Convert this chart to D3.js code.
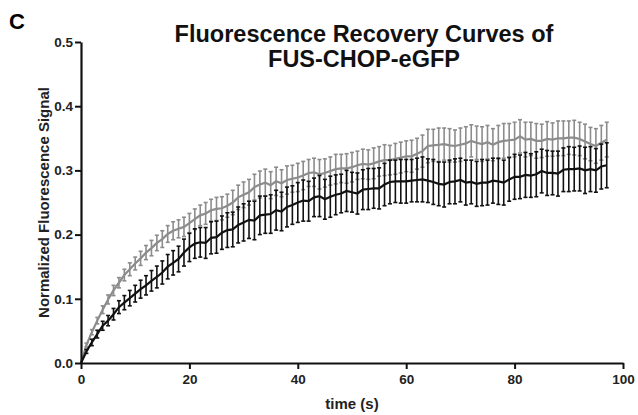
<!DOCTYPE html>
<html>
<head>
<meta charset="utf-8">
<script src="https://cdn.jsdelivr.net/npm/d3@7"></script>
<style>
  body { margin: 0; background: #fff; }
  svg text { font-family: "Liberation Sans", Arial, sans-serif; font-weight: bold; }
</style>
</head>
<body>
<div id="chart"></div>
<script>
// time points (s)
var times = [];
for (var t = 0; t <= 97; t++) times.push(t);

// black series: mean and error
var blackMean = [
  0.000, 0.018, 0.032, 0.045, 0.058, 0.066, 0.076, 0.087, 0.094, 0.101,
  0.108, 0.115, 0.121, 0.128, 0.134, 0.141, 0.150, 0.156, 0.162, 0.172,
  0.180, 0.186, 0.188, 0.187, 0.195, 0.196, 0.203, 0.207, 0.208, 0.215,
  0.219, 0.223, 0.222, 0.230, 0.231, 0.232, 0.238, 0.236, 0.243, 0.246,
  0.250, 0.253, 0.252, 0.258, 0.260, 0.255, 0.259, 0.262, 0.264, 0.268,
  0.266, 0.264, 0.270, 0.271, 0.272, 0.272, 0.278, 0.282, 0.283, 0.283,
  0.283, 0.284, 0.285, 0.286, 0.284, 0.282, 0.279, 0.278, 0.282, 0.283,
  0.285, 0.281, 0.282, 0.279, 0.281, 0.281, 0.284, 0.283, 0.281, 0.286,
  0.290, 0.290, 0.293, 0.292, 0.294, 0.299, 0.296, 0.296, 0.295, 0.301,
  0.302, 0.302, 0.303, 0.300, 0.302, 0.300, 0.306, 0.308
];
var blackErr = [
  0.000, 0.003, 0.005, 0.006, 0.007, 0.008, 0.009, 0.010, 0.011, 0.012,
  0.013, 0.014, 0.015, 0.016, 0.017, 0.018, 0.019, 0.019, 0.020, 0.021,
  0.022, 0.023, 0.023, 0.024, 0.025, 0.025, 0.026, 0.027, 0.027, 0.028,
  0.029, 0.029, 0.030, 0.030, 0.029, 0.030, 0.031, 0.030, 0.031, 0.030,
  0.031, 0.032, 0.031, 0.030, 0.032, 0.031, 0.032, 0.031, 0.030, 0.032,
  0.031, 0.032, 0.031, 0.032, 0.031, 0.032, 0.033, 0.034, 0.033, 0.034,
  0.034, 0.033, 0.034, 0.035, 0.034, 0.035, 0.034, 0.035, 0.034, 0.035,
  0.034, 0.035, 0.034, 0.035, 0.036, 0.035, 0.035, 0.036, 0.035, 0.034,
  0.035, 0.034, 0.035, 0.034, 0.035, 0.034, 0.035, 0.034, 0.035, 0.034,
  0.035, 0.034, 0.035, 0.036, 0.035, 0.034, 0.035, 0.035
];

// grey series: mean and error
var greyMean = [
  0.000, 0.028, 0.048, 0.066, 0.083, 0.099, 0.113, 0.125, 0.137, 0.146,
  0.155, 0.163, 0.172, 0.179, 0.187, 0.193, 0.201, 0.206, 0.209, 0.212,
  0.218, 0.224, 0.230, 0.233, 0.238, 0.240, 0.241, 0.245, 0.250, 0.258,
  0.262, 0.266, 0.274, 0.278, 0.281, 0.277, 0.283, 0.280, 0.285, 0.287,
  0.289, 0.292, 0.296, 0.297, 0.294, 0.296, 0.299, 0.302, 0.303, 0.303,
  0.305, 0.308, 0.310, 0.309, 0.311, 0.314, 0.316, 0.316, 0.318, 0.320,
  0.322, 0.322, 0.326, 0.330, 0.338, 0.339, 0.340, 0.341, 0.339, 0.338,
  0.340, 0.342, 0.346, 0.343, 0.341, 0.344, 0.340, 0.344, 0.346, 0.347,
  0.348, 0.353, 0.348, 0.349, 0.346, 0.346, 0.349, 0.348, 0.350, 0.350,
  0.351, 0.351, 0.349, 0.345, 0.341, 0.338, 0.343, 0.348
];
var greyErr = [
  0.000, 0.003, 0.004, 0.005, 0.006, 0.007, 0.008, 0.008, 0.009, 0.010,
  0.010, 0.011, 0.011, 0.012, 0.012, 0.013, 0.013, 0.014, 0.014, 0.015,
  0.015, 0.016, 0.016, 0.017, 0.017, 0.018, 0.018, 0.018, 0.019, 0.019,
  0.020, 0.020, 0.020, 0.021, 0.021, 0.021, 0.022, 0.021, 0.022, 0.021,
  0.022, 0.022, 0.021, 0.022, 0.023, 0.022, 0.022, 0.023, 0.022, 0.023,
  0.023, 0.022, 0.023, 0.023, 0.024, 0.023, 0.024, 0.023, 0.024, 0.024,
  0.024, 0.025, 0.024, 0.025, 0.026, 0.025, 0.026, 0.025, 0.026, 0.025,
  0.026, 0.026, 0.025, 0.026, 0.027, 0.026, 0.025, 0.026, 0.027, 0.026,
  0.027, 0.026, 0.027, 0.026, 0.027, 0.026, 0.027, 0.026, 0.027, 0.027,
  0.026, 0.027, 0.026, 0.027, 0.026, 0.027, 0.027, 0.027
];

var xTicks = [0, 20, 40, 60, 80, 100];
var yTicks = [0.0, 0.1, 0.2, 0.3, 0.4, 0.5];

var width = 638, height = 415;
var margin = {top: 42, right: 15, bottom: 52, left: 81};

var svg = d3.select("#chart").append("svg")
  .attr("width", width)
  .attr("height", height);

var x = d3.scaleLinear().domain([0, 100]).range([margin.left, width - margin.right]);
var y = d3.scaleLinear().domain([0, 0.5]).range([height - margin.bottom, margin.top]);

// panel letter
svg.append("text")
  .attr("x", 9).attr("y", 29)
  .attr("font-size", 22)
  .text("C");

// title
svg.append("text")
  .attr("x", 364).attr("y", 42)
  .attr("text-anchor", "middle")
  .attr("font-size", 23.5)
  .attr("fill", "#111")
  .text("Fluorescence Recovery Curves of");
svg.append("text")
  .attr("x", 364).attr("y", 67)
  .attr("text-anchor", "middle")
  .attr("font-size", 23.5)
  .attr("fill", "#111")
  .text("FUS-CHOP-eGFP");

function drawSeries(mean, err, color) {
  var g = svg.append("g");
  var capW = 2;
  times.forEach(function (t, i) {
    if (err[i] <= 0) return;
    var cx = x(t);
    var y1 = y(mean[i] + err[i]);
    var y0 = y(mean[i] - err[i]);
    g.append("line")
      .attr("x1", cx).attr("x2", cx).attr("y1", y1).attr("y2", y0)
      .attr("stroke", color).attr("stroke-width", 1.6);
    g.append("line")
      .attr("x1", cx - capW).attr("x2", cx + capW).attr("y1", y1).attr("y2", y1)
      .attr("stroke", color).attr("stroke-width", 1.6);
    g.append("line")
      .attr("x1", cx - capW).attr("x2", cx + capW).attr("y1", y0).attr("y2", y0)
      .attr("stroke", color).attr("stroke-width", 1.6);
  });
  var line = d3.line()
    .x(function (d, i) { return x(times[i]); })
    .y(function (d) { return y(d); });
  g.append("path")
    .datum(mean)
    .attr("d", line)
    .attr("fill", "none")
    .attr("stroke", color)
    .attr("stroke-width", 2.2);
}

drawSeries(greyMean, greyErr, "#8c8c8c");
drawSeries(blackMean, blackErr, "#111111");

// axes
var xAxis = svg.append("g")
  .attr("transform", "translate(0," + y(0) + ")")
  .call(d3.axisBottom(x).tickValues(xTicks).tickSize(6).tickSizeOuter(0).tickFormat(d3.format("d")));
var yAxis = svg.append("g")
  .attr("transform", "translate(" + x(0) + ",0)")
  .call(d3.axisLeft(y).tickValues(yTicks).tickSize(6).tickSizeOuter(0).tickFormat(d3.format(".1f")));

[xAxis, yAxis].forEach(function (a) {
  a.select(".domain").attr("stroke", "#111").attr("stroke-width", 2.2);
  a.selectAll(".tick line").attr("stroke", "#111").attr("stroke-width", 2);
  a.selectAll(".tick text")
    .attr("fill", "#222")
    .attr("font-size", 13.5)
    .style("font-family", "'Liberation Sans', Arial, sans-serif")
    .style("font-weight", "bold");
});
xAxis.selectAll(".tick text").attr("dy", "0.9em");
yAxis.selectAll(".tick text").attr("x", -8);

// axis titles
svg.append("text")
  .attr("x", (x(0) + x(100)) / 2).attr("y", 409)
  .attr("text-anchor", "middle")
  .attr("font-size", 15)
  .attr("fill", "#222")
  .text("time (s)");
svg.append("text")
  .attr("transform", "translate(49," + ((y(0) + y(0.5)) / 2) + ") rotate(-90)")
  .attr("text-anchor", "middle")
  .attr("font-size", 15)
  .attr("fill", "#222")
  .text("Normalized Fluorescence Signal");
</script>
</body>
</html>
